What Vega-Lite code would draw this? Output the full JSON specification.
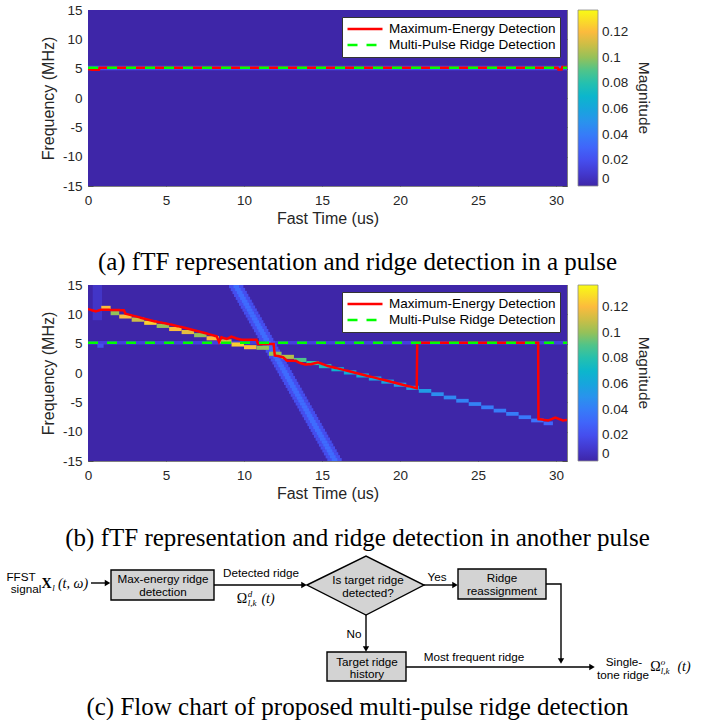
{
  "$schema": "https://vega.github.io/schema/vega-lite/v6.json",
  "padding": {"left": 6, "top": 2, "right": 0, "bottom": 0},
  "spacing": 2,
  "background": "white",
  "resolve": {
    "scale": {"x": "independent", "y": "independent", "fill": "independent", "color": "independent", "strokeDash": "independent", "shape": "independent"},
    "legend": {"fill": "independent", "color": "independent", "strokeDash": "independent", "shape": "independent"}
  },
  "config": {
    "font": "Liberation Sans",
    "view": {"stroke": "#808080", "strokeWidth": 1}
  },
  "datasets": {
    "cellsA": [
      {"t0": 0, "t1": 30.7, "f0": -15, "f1": 15, "mag": 0},
      {"t0": 0, "t1": 30.7, "f0": 4.75, "f1": 5.5, "mag": 0.02}
    ],
    "bgB": [
      {"t0": 0, "t1": 30.7, "f0": -15, "f1": 15, "mag": 0},
      {"t0": 0, "t1": 30.7, "f0": 4.85, "f1": 5.45, "mag": 0.013},
      {"t0": 0.3, "t1": 0.9, "f0": 9, "f1": 15, "mag": 0.008},
      {"t0": 0.6, "t1": 1.0, "f0": 4.3, "f1": 5.0, "mag": 0.02}
    ],
    "diagB": [
      {"t0": 9.04, "t1": 9.96, "f0": 14.45, "f1": 15, "mag": 0.02},
      {"t0": 9.15, "t1": 10.07, "f0": 13.95, "f1": 14.5, "mag": 0.02},
      {"t0": 9.26, "t1": 10.18, "f0": 13.45, "f1": 14, "mag": 0.02},
      {"t0": 9.36, "t1": 10.28, "f0": 12.95, "f1": 13.5, "mag": 0.02},
      {"t0": 9.47, "t1": 10.39, "f0": 12.45, "f1": 13, "mag": 0.02},
      {"t0": 9.58, "t1": 10.5, "f0": 11.95, "f1": 12.5, "mag": 0.02},
      {"t0": 9.68, "t1": 10.6, "f0": 11.45, "f1": 12, "mag": 0.02},
      {"t0": 9.79, "t1": 10.71, "f0": 10.95, "f1": 11.5, "mag": 0.02},
      {"t0": 9.9, "t1": 10.82, "f0": 10.45, "f1": 11, "mag": 0.02},
      {"t0": 10.0, "t1": 10.92, "f0": 9.95, "f1": 10.5, "mag": 0.02},
      {"t0": 10.11, "t1": 11.03, "f0": 9.45, "f1": 10, "mag": 0.02},
      {"t0": 10.22, "t1": 11.14, "f0": 8.95, "f1": 9.5, "mag": 0.02},
      {"t0": 10.32, "t1": 11.24, "f0": 8.45, "f1": 9, "mag": 0.02},
      {"t0": 10.43, "t1": 11.35, "f0": 7.95, "f1": 8.5, "mag": 0.02},
      {"t0": 10.54, "t1": 11.46, "f0": 7.45, "f1": 8, "mag": 0.02},
      {"t0": 10.64, "t1": 11.56, "f0": 6.95, "f1": 7.5, "mag": 0.02},
      {"t0": 10.75, "t1": 11.67, "f0": 6.45, "f1": 7, "mag": 0.02},
      {"t0": 10.86, "t1": 11.78, "f0": 5.95, "f1": 6.5, "mag": 0.02},
      {"t0": 10.96, "t1": 11.88, "f0": 5.45, "f1": 6, "mag": 0.02},
      {"t0": 11.07, "t1": 11.99, "f0": 4.95, "f1": 5.5, "mag": 0.02},
      {"t0": 11.18, "t1": 12.1, "f0": 4.45, "f1": 5, "mag": 0.02},
      {"t0": 11.28, "t1": 12.2, "f0": 3.95, "f1": 4.5, "mag": 0.02},
      {"t0": 11.39, "t1": 12.31, "f0": 3.45, "f1": 4, "mag": 0.02},
      {"t0": 11.5, "t1": 12.42, "f0": 2.95, "f1": 3.5, "mag": 0.02},
      {"t0": 11.6, "t1": 12.52, "f0": 2.45, "f1": 3, "mag": 0.02},
      {"t0": 11.71, "t1": 12.63, "f0": 1.95, "f1": 2.5, "mag": 0.02},
      {"t0": 11.82, "t1": 12.74, "f0": 1.45, "f1": 2, "mag": 0.02},
      {"t0": 11.92, "t1": 12.84, "f0": 0.95, "f1": 1.5, "mag": 0.02},
      {"t0": 12.03, "t1": 12.95, "f0": 0.45, "f1": 1, "mag": 0.02},
      {"t0": 12.14, "t1": 13.06, "f0": -0.05, "f1": 0.5, "mag": 0.02},
      {"t0": 12.24, "t1": 13.16, "f0": -0.55, "f1": 0, "mag": 0.02},
      {"t0": 12.35, "t1": 13.27, "f0": -1.05, "f1": -0.5, "mag": 0.02},
      {"t0": 12.46, "t1": 13.38, "f0": -1.55, "f1": -1, "mag": 0.02},
      {"t0": 12.56, "t1": 13.48, "f0": -2.05, "f1": -1.5, "mag": 0.02},
      {"t0": 12.67, "t1": 13.59, "f0": -2.55, "f1": -2, "mag": 0.02},
      {"t0": 12.78, "t1": 13.7, "f0": -3.05, "f1": -2.5, "mag": 0.02},
      {"t0": 12.88, "t1": 13.8, "f0": -3.55, "f1": -3, "mag": 0.02},
      {"t0": 12.99, "t1": 13.91, "f0": -4.05, "f1": -3.5, "mag": 0.02},
      {"t0": 13.1, "t1": 14.02, "f0": -4.55, "f1": -4, "mag": 0.02},
      {"t0": 13.2, "t1": 14.12, "f0": -5.05, "f1": -4.5, "mag": 0.02},
      {"t0": 13.31, "t1": 14.23, "f0": -5.55, "f1": -5, "mag": 0.02},
      {"t0": 13.42, "t1": 14.34, "f0": -6.05, "f1": -5.5, "mag": 0.02},
      {"t0": 13.52, "t1": 14.44, "f0": -6.55, "f1": -6, "mag": 0.02},
      {"t0": 13.63, "t1": 14.55, "f0": -7.05, "f1": -6.5, "mag": 0.02},
      {"t0": 13.74, "t1": 14.66, "f0": -7.55, "f1": -7, "mag": 0.02},
      {"t0": 13.84, "t1": 14.76, "f0": -8.05, "f1": -7.5, "mag": 0.02},
      {"t0": 13.95, "t1": 14.87, "f0": -8.55, "f1": -8, "mag": 0.02},
      {"t0": 14.06, "t1": 14.98, "f0": -9.05, "f1": -8.5, "mag": 0.02},
      {"t0": 14.16, "t1": 15.08, "f0": -9.55, "f1": -9, "mag": 0.02},
      {"t0": 14.27, "t1": 15.19, "f0": -10.05, "f1": -9.5, "mag": 0.02},
      {"t0": 14.38, "t1": 15.3, "f0": -10.55, "f1": -10, "mag": 0.02},
      {"t0": 14.48, "t1": 15.4, "f0": -11.05, "f1": -10.5, "mag": 0.02},
      {"t0": 14.59, "t1": 15.51, "f0": -11.55, "f1": -11, "mag": 0.02},
      {"t0": 14.7, "t1": 15.62, "f0": -12.05, "f1": -11.5, "mag": 0.02},
      {"t0": 14.8, "t1": 15.72, "f0": -12.55, "f1": -12, "mag": 0.02},
      {"t0": 14.91, "t1": 15.83, "f0": -13.05, "f1": -12.5, "mag": 0.02},
      {"t0": 15.02, "t1": 15.94, "f0": -13.55, "f1": -13, "mag": 0.02},
      {"t0": 15.12, "t1": 16.04, "f0": -14.05, "f1": -13.5, "mag": 0.02},
      {"t0": 15.23, "t1": 16.15, "f0": -14.55, "f1": -14, "mag": 0.02},
      {"t0": 15.34, "t1": 16.26, "f0": -15.05, "f1": -14.5, "mag": 0.02},
      {"t0": 9.32, "t1": 9.68, "f0": 14.45, "f1": 15, "mag": 0.033},
      {"t0": 9.43, "t1": 9.79, "f0": 13.95, "f1": 14.5, "mag": 0.033},
      {"t0": 9.54, "t1": 9.9, "f0": 13.45, "f1": 14, "mag": 0.033},
      {"t0": 9.64, "t1": 10.0, "f0": 12.95, "f1": 13.5, "mag": 0.033},
      {"t0": 9.75, "t1": 10.11, "f0": 12.45, "f1": 13, "mag": 0.033},
      {"t0": 9.86, "t1": 10.22, "f0": 11.95, "f1": 12.5, "mag": 0.033},
      {"t0": 9.96, "t1": 10.32, "f0": 11.45, "f1": 12, "mag": 0.033},
      {"t0": 10.07, "t1": 10.43, "f0": 10.95, "f1": 11.5, "mag": 0.033},
      {"t0": 10.18, "t1": 10.54, "f0": 10.45, "f1": 11, "mag": 0.033},
      {"t0": 10.28, "t1": 10.64, "f0": 9.95, "f1": 10.5, "mag": 0.033},
      {"t0": 10.39, "t1": 10.75, "f0": 9.45, "f1": 10, "mag": 0.033},
      {"t0": 10.5, "t1": 10.86, "f0": 8.95, "f1": 9.5, "mag": 0.033},
      {"t0": 10.6, "t1": 10.96, "f0": 8.45, "f1": 9, "mag": 0.033},
      {"t0": 10.71, "t1": 11.07, "f0": 7.95, "f1": 8.5, "mag": 0.033},
      {"t0": 10.82, "t1": 11.18, "f0": 7.45, "f1": 8, "mag": 0.033},
      {"t0": 10.92, "t1": 11.28, "f0": 6.95, "f1": 7.5, "mag": 0.033},
      {"t0": 11.03, "t1": 11.39, "f0": 6.45, "f1": 7, "mag": 0.033},
      {"t0": 11.14, "t1": 11.5, "f0": 5.95, "f1": 6.5, "mag": 0.033},
      {"t0": 11.24, "t1": 11.6, "f0": 5.45, "f1": 6, "mag": 0.033},
      {"t0": 11.35, "t1": 11.71, "f0": 4.95, "f1": 5.5, "mag": 0.033},
      {"t0": 11.46, "t1": 11.82, "f0": 4.45, "f1": 5, "mag": 0.033},
      {"t0": 11.56, "t1": 11.92, "f0": 3.95, "f1": 4.5, "mag": 0.033},
      {"t0": 11.67, "t1": 12.03, "f0": 3.45, "f1": 4, "mag": 0.033},
      {"t0": 11.78, "t1": 12.14, "f0": 2.95, "f1": 3.5, "mag": 0.033},
      {"t0": 11.88, "t1": 12.24, "f0": 2.45, "f1": 3, "mag": 0.033},
      {"t0": 11.99, "t1": 12.35, "f0": 1.95, "f1": 2.5, "mag": 0.033},
      {"t0": 12.1, "t1": 12.46, "f0": 1.45, "f1": 2, "mag": 0.033},
      {"t0": 12.2, "t1": 12.56, "f0": 0.95, "f1": 1.5, "mag": 0.033},
      {"t0": 12.31, "t1": 12.67, "f0": 0.45, "f1": 1, "mag": 0.033},
      {"t0": 12.42, "t1": 12.78, "f0": -0.05, "f1": 0.5, "mag": 0.033},
      {"t0": 12.52, "t1": 12.88, "f0": -0.55, "f1": 0, "mag": 0.033},
      {"t0": 12.63, "t1": 12.99, "f0": -1.05, "f1": -0.5, "mag": 0.033},
      {"t0": 12.74, "t1": 13.1, "f0": -1.55, "f1": -1, "mag": 0.033},
      {"t0": 12.84, "t1": 13.2, "f0": -2.05, "f1": -1.5, "mag": 0.033},
      {"t0": 12.95, "t1": 13.31, "f0": -2.55, "f1": -2, "mag": 0.033},
      {"t0": 13.06, "t1": 13.42, "f0": -3.05, "f1": -2.5, "mag": 0.033},
      {"t0": 13.16, "t1": 13.52, "f0": -3.55, "f1": -3, "mag": 0.033},
      {"t0": 13.27, "t1": 13.63, "f0": -4.05, "f1": -3.5, "mag": 0.033},
      {"t0": 13.38, "t1": 13.74, "f0": -4.55, "f1": -4, "mag": 0.033},
      {"t0": 13.48, "t1": 13.84, "f0": -5.05, "f1": -4.5, "mag": 0.033},
      {"t0": 13.59, "t1": 13.95, "f0": -5.55, "f1": -5, "mag": 0.033},
      {"t0": 13.7, "t1": 14.06, "f0": -6.05, "f1": -5.5, "mag": 0.033},
      {"t0": 13.8, "t1": 14.16, "f0": -6.55, "f1": -6, "mag": 0.033},
      {"t0": 13.91, "t1": 14.27, "f0": -7.05, "f1": -6.5, "mag": 0.033},
      {"t0": 14.02, "t1": 14.38, "f0": -7.55, "f1": -7, "mag": 0.033},
      {"t0": 14.12, "t1": 14.48, "f0": -8.05, "f1": -7.5, "mag": 0.033},
      {"t0": 14.23, "t1": 14.59, "f0": -8.55, "f1": -8, "mag": 0.033},
      {"t0": 14.34, "t1": 14.7, "f0": -9.05, "f1": -8.5, "mag": 0.033},
      {"t0": 14.44, "t1": 14.8, "f0": -9.55, "f1": -9, "mag": 0.033},
      {"t0": 14.55, "t1": 14.91, "f0": -10.05, "f1": -9.5, "mag": 0.033},
      {"t0": 14.66, "t1": 15.02, "f0": -10.55, "f1": -10, "mag": 0.033},
      {"t0": 14.76, "t1": 15.12, "f0": -11.05, "f1": -10.5, "mag": 0.033},
      {"t0": 14.87, "t1": 15.23, "f0": -11.55, "f1": -11, "mag": 0.033},
      {"t0": 14.98, "t1": 15.34, "f0": -12.05, "f1": -11.5, "mag": 0.033},
      {"t0": 15.08, "t1": 15.44, "f0": -12.55, "f1": -12, "mag": 0.033},
      {"t0": 15.19, "t1": 15.55, "f0": -13.05, "f1": -12.5, "mag": 0.033},
      {"t0": 15.3, "t1": 15.66, "f0": -13.55, "f1": -13, "mag": 0.033},
      {"t0": 15.4, "t1": 15.76, "f0": -14.05, "f1": -13.5, "mag": 0.033},
      {"t0": 15.51, "t1": 15.87, "f0": -14.55, "f1": -14, "mag": 0.033},
      {"t0": 15.62, "t1": 15.98, "f0": -15.05, "f1": -14.5, "mag": 0.033}
    ],
    "ridgeB": [
      {"t0": 0.85, "t1": 1.45, "f0": 10.75, "f1": 11.45, "mag": 0.12},
      {"t0": 1.45, "t1": 2.0, "f0": 9.85, "f1": 10.55, "mag": 0.1},
      {"t0": 2.0, "t1": 2.8, "f0": 9.27, "f1": 9.97, "mag": 0.12},
      {"t0": 2.8, "t1": 3.6, "f0": 8.74, "f1": 9.44, "mag": 0.11},
      {"t0": 3.6, "t1": 4.4, "f0": 8.21, "f1": 8.91, "mag": 0.125},
      {"t0": 4.4, "t1": 5.2, "f0": 7.68, "f1": 8.38, "mag": 0.1},
      {"t0": 5.2, "t1": 6.0, "f0": 7.15, "f1": 7.85, "mag": 0.12},
      {"t0": 6.0, "t1": 6.8, "f0": 6.63, "f1": 7.33, "mag": 0.115},
      {"t0": 6.8, "t1": 7.6, "f0": 6.1, "f1": 6.8, "mag": 0.1},
      {"t0": 7.6, "t1": 8.4, "f0": 5.57, "f1": 6.27, "mag": 0.12},
      {"t0": 8.4, "t1": 9.2, "f0": 5.04, "f1": 5.74, "mag": 0.11},
      {"t0": 9.2, "t1": 10.0, "f0": 4.51, "f1": 5.21, "mag": 0.125},
      {"t0": 10.0, "t1": 10.8, "f0": 4.05, "f1": 4.75, "mag": 0.12},
      {"t0": 10.8, "t1": 11.6, "f0": 3.95, "f1": 4.65, "mag": 0.1},
      {"t0": 11.6, "t1": 12.4, "f0": 2.93, "f1": 3.63, "mag": 0.1},
      {"t0": 12.4, "t1": 13.2, "f0": 2.4, "f1": 3.1, "mag": 0.105},
      {"t0": 13.2, "t1": 14.0, "f0": 1.87, "f1": 2.57, "mag": 0.09},
      {"t0": 14.0, "t1": 14.8, "f0": 1.35, "f1": 2.05, "mag": 0.085},
      {"t0": 14.8, "t1": 15.6, "f0": 0.82, "f1": 1.52, "mag": 0.075},
      {"t0": 15.6, "t1": 16.4, "f0": 0.29, "f1": 0.99, "mag": 0.07},
      {"t0": 16.4, "t1": 17.2, "f0": -0.24, "f1": 0.46, "mag": 0.065},
      {"t0": 17.2, "t1": 18.0, "f0": -0.77, "f1": -0.07, "mag": 0.065},
      {"t0": 18.0, "t1": 18.8, "f0": -1.29, "f1": -0.59, "mag": 0.06},
      {"t0": 18.8, "t1": 19.6, "f0": -1.82, "f1": -1.12, "mag": 0.06},
      {"t0": 19.6, "t1": 20.4, "f0": -2.35, "f1": -1.65, "mag": 0.055},
      {"t0": 20.4, "t1": 21.2, "f0": -2.88, "f1": -2.18, "mag": 0.055},
      {"t0": 21.2, "t1": 22.0, "f0": -3.37, "f1": -2.73, "mag": 0.055},
      {"t0": 22.0, "t1": 22.8, "f0": -3.93, "f1": -3.29, "mag": 0.048},
      {"t0": 22.8, "t1": 23.6, "f0": -4.49, "f1": -3.85, "mag": 0.045},
      {"t0": 23.6, "t1": 24.4, "f0": -5.05, "f1": -4.41, "mag": 0.043},
      {"t0": 24.4, "t1": 25.2, "f0": -5.61, "f1": -4.97, "mag": 0.042},
      {"t0": 25.2, "t1": 26.0, "f0": -6.17, "f1": -5.53, "mag": 0.04},
      {"t0": 26.0, "t1": 26.8, "f0": -6.73, "f1": -6.09, "mag": 0.04},
      {"t0": 26.8, "t1": 27.6, "f0": -7.29, "f1": -6.65, "mag": 0.04},
      {"t0": 27.6, "t1": 28.4, "f0": -7.85, "f1": -7.21, "mag": 0.038},
      {"t0": 28.4, "t1": 29.2, "f0": -8.41, "f1": -7.77, "mag": 0.036},
      {"t0": 29.2, "t1": 29.8, "f0": -8.9, "f1": -8.26, "mag": 0.03}
    ],
    "linesA": [
      {"series": "Maximum-Energy Detection", "i": 0, "t": 0, "f": 4.95},
      {"series": "Maximum-Energy Detection", "i": 1, "t": 0.25, "f": 4.8},
      {"series": "Maximum-Energy Detection", "i": 2, "t": 0.7, "f": 4.8},
      {"series": "Maximum-Energy Detection", "i": 3, "t": 0.75, "f": 5.15},
      {"series": "Maximum-Energy Detection", "i": 4, "t": 30.1, "f": 5.15},
      {"series": "Maximum-Energy Detection", "i": 5, "t": 30.15, "f": 4.85},
      {"series": "Maximum-Energy Detection", "i": 6, "t": 30.35, "f": 4.85},
      {"series": "Maximum-Energy Detection", "i": 7, "t": 30.4, "f": 5.3},
      {"series": "Maximum-Energy Detection", "i": 8, "t": 30.7, "f": 5.3},
      {"series": "Multi-Pulse Ridge Detection", "i": 0, "t": 0, "f": 5.15},
      {"series": "Multi-Pulse Ridge Detection", "i": 1, "t": 30.7, "f": 5.15}
    ],
    "linesB": [
      {"series": "Maximum-Energy Detection", "i": 0, "t": 0, "f": 10.9},
      {"series": "Maximum-Energy Detection", "i": 1, "t": 0.5, "f": 10.5},
      {"series": "Maximum-Energy Detection", "i": 2, "t": 0.85, "f": 10.8},
      {"series": "Maximum-Energy Detection", "i": 3, "t": 2.3, "f": 10.7},
      {"series": "Maximum-Energy Detection", "i": 4, "t": 2.4, "f": 10.1},
      {"series": "Maximum-Energy Detection", "i": 5, "t": 3.0, "f": 9.7},
      {"series": "Maximum-Energy Detection", "i": 6, "t": 4.1, "f": 8.9},
      {"series": "Maximum-Energy Detection", "i": 7, "t": 5.15, "f": 8.35},
      {"series": "Maximum-Energy Detection", "i": 8, "t": 6.2, "f": 7.7},
      {"series": "Maximum-Energy Detection", "i": 9, "t": 7.3, "f": 6.95},
      {"series": "Maximum-Energy Detection", "i": 10, "t": 8.25, "f": 6.25},
      {"series": "Maximum-Energy Detection", "i": 11, "t": 8.4, "f": 5.3},
      {"series": "Maximum-Energy Detection", "i": 12, "t": 8.55, "f": 6.1},
      {"series": "Maximum-Energy Detection", "i": 13, "t": 8.9, "f": 5.8},
      {"series": "Maximum-Energy Detection", "i": 14, "t": 9.2, "f": 6.2},
      {"series": "Maximum-Energy Detection", "i": 15, "t": 9.5, "f": 5.9},
      {"series": "Maximum-Energy Detection", "i": 16, "t": 9.85, "f": 5.65},
      {"series": "Maximum-Energy Detection", "i": 17, "t": 10.8, "f": 5.65},
      {"series": "Maximum-Energy Detection", "i": 18, "t": 10.9, "f": 4.95},
      {"series": "Maximum-Energy Detection", "i": 19, "t": 11.9, "f": 4.95},
      {"series": "Maximum-Energy Detection", "i": 20, "t": 11.97, "f": 3.0},
      {"series": "Maximum-Energy Detection", "i": 21, "t": 12.5, "f": 2.7},
      {"series": "Maximum-Energy Detection", "i": 22, "t": 12.75, "f": 2.1},
      {"series": "Maximum-Energy Detection", "i": 23, "t": 13.3, "f": 2.1},
      {"series": "Maximum-Energy Detection", "i": 24, "t": 13.5, "f": 1.8},
      {"series": "Maximum-Energy Detection", "i": 25, "t": 13.9, "f": 1.45},
      {"series": "Maximum-Energy Detection", "i": 26, "t": 14.3, "f": 1.5},
      {"series": "Maximum-Energy Detection", "i": 27, "t": 14.75, "f": 1.8},
      {"series": "Maximum-Energy Detection", "i": 28, "t": 15.3, "f": 1.25},
      {"series": "Maximum-Energy Detection", "i": 29, "t": 18.3, "f": -0.75},
      {"series": "Maximum-Energy Detection", "i": 30, "t": 21.07, "f": -2.6},
      {"series": "Maximum-Energy Detection", "i": 31, "t": 21.1, "f": 5.15},
      {"series": "Maximum-Energy Detection", "i": 32, "t": 28.85, "f": 5.15},
      {"series": "Maximum-Energy Detection", "i": 33, "t": 28.87, "f": -7.85},
      {"series": "Maximum-Energy Detection", "i": 34, "t": 29.5, "f": -8.1},
      {"series": "Maximum-Energy Detection", "i": 35, "t": 29.95, "f": -7.6},
      {"series": "Maximum-Energy Detection", "i": 36, "t": 30.45, "f": -8.1},
      {"series": "Maximum-Energy Detection", "i": 37, "t": 30.7, "f": -8.0},
      {"series": "Multi-Pulse Ridge Detection", "i": 0, "t": 0, "f": 5.15},
      {"series": "Multi-Pulse Ridge Detection", "i": 1, "t": 30.7, "f": 5.15}
    ],
    "fbox": [
      {"x0": 111, "x1": 214, "y0": 568, "y1": 598},
      {"x0": 458, "x1": 546, "y0": 567, "y1": 597},
      {"x0": 327, "x1": 406, "y0": 650, "y1": 679}
    ],
    "fdiamond": [
      {"x": 307, "ya": 583, "yb": 583},
      {"x": 366, "ya": 554, "yb": 613},
      {"x": 424, "ya": 583, "yb": 583}
    ],
    "fseg": [
      {"seg": "s1", "i": 0, "x": 91, "y": 581}, {"seg": "s1", "i": 1, "x": 108, "y": 581},
      {"seg": "s2", "i": 0, "x": 214, "y": 583}, {"seg": "s2", "i": 1, "x": 305, "y": 583},
      {"seg": "s3", "i": 0, "x": 424, "y": 583}, {"seg": "s3", "i": 1, "x": 456, "y": 583},
      {"seg": "s4", "i": 0, "x": 366, "y": 613}, {"seg": "s4", "i": 1, "x": 366, "y": 648},
      {"seg": "s5", "i": 0, "x": 406, "y": 665}, {"seg": "s5", "i": 1, "x": 593, "y": 665},
      {"seg": "s6", "i": 0, "x": 546, "y": 582}, {"seg": "s6", "i": 1, "x": 561, "y": 582}, {"seg": "s6", "i": 2, "x": 561, "y": 660}
    ],
    "farrow": [
      {"x": 107.5, "y": 581, "dir": "right"},
      {"x": 304, "y": 583, "dir": "right"},
      {"x": 455, "y": 583, "dir": "right"},
      {"x": 366, "y": 647, "dir": "down"},
      {"x": 592, "y": 665, "dir": "right"},
      {"x": 561, "y": 659, "dir": "down"}
    ],
    "ftext": [
      {"x": 21, "y": 575, "label": "FFST"},
      {"x": 26, "y": 587, "label": "signal"},
      {"x": 163, "y": 577, "label": "Max-energy ridge"},
      {"x": 163, "y": 590, "label": "detection"},
      {"x": 261, "y": 571, "label": "Detected ridge"},
      {"x": 368, "y": 578, "label": "Is target ridge"},
      {"x": 368, "y": 591, "label": "detected?"},
      {"x": 437, "y": 575, "label": "Yes"},
      {"x": 502, "y": 576, "label": "Ridge"},
      {"x": 502, "y": 589, "label": "reassignment"},
      {"x": 354, "y": 632, "label": "No"},
      {"x": 367, "y": 660, "label": "Target ridge"},
      {"x": 367, "y": 672, "label": "history"},
      {"x": 474, "y": 655, "label": "Most frequent ridge"},
      {"x": 624, "y": 660, "label": "Single-"},
      {"x": 623, "y": 673, "label": "tone ridge"}
    ],
    "fmath": [
      {"x": 46.5, "y": 582, "label": "X", "role": "bold"},
      {"x": 53.5, "y": 586, "label": "l", "role": "script"},
      {"x": 73, "y": 582, "label": "(t, ω)", "role": "main"},
      {"x": 242, "y": 597, "label": "Ω", "role": "upright"},
      {"x": 250, "y": 591.5, "label": "d", "role": "script"},
      {"x": 252, "y": 601, "label": "l,k", "role": "script"},
      {"x": 268, "y": 597, "label": "(t)", "role": "main"},
      {"x": 655.5, "y": 665, "label": "Ω", "role": "upright"},
      {"x": 663, "y": 660, "label": "o", "role": "script"},
      {"x": 665, "y": 669, "label": "l,k", "role": "script"},
      {"x": 684, "y": 665, "label": "(t)", "role": "main"}
    ]
  },
  "vconcat": [
    {
      "width": 479,
      "height": 176,
      "title": {"text": "(a) fTF representation and ridge detection in a pulse", "orient": "bottom", "anchor": "middle", "frame": "group", "dx": 30, "offset": 23, "font": "Liberation Serif", "fontSize": 25, "fontWeight": "normal", "color": "#000000"},
      "layer": [
        {
          "data": {"name": "cellsA"},
          "mark": {"type": "rect", "clip": true},
          "encoding": {
            "x": {"field": "t0", "type": "quantitative", "scale": {"domain": [0, 30.7], "nice": false, "zero": false},
              "axis": {"orient": "bottom", "values": [0, 5, 10, 15, 20, 25, 30], "title": "Fast Time (us)", "domain": false, "grid": false, "ticks": true, "tickSize": -5, "tickColor": "#404040", "tickWidth": 0.8, "labelPadding": 12, "labelFlush": false, "labelOverlap": false, "labelFont": "Liberation Sans", "labelFontSize": 13.5, "labelColor": "#262626", "labelExpr": "'' + datum.value", "titleFont": "Liberation Sans", "titleFontSize": 16, "titleFontWeight": "normal", "titleColor": "#262626", "titlePadding": 4}},
            "x2": {"field": "t1"},
            "y": {"field": "f0", "type": "quantitative", "scale": {"domain": [-15, 15], "nice": false, "zero": false},
              "axis": {"orient": "left", "values": [-15, -10, -5, 0, 5, 10, 15], "title": "Frequency (MHz)", "domain": false, "grid": false, "ticks": true, "tickSize": -5, "tickColor": "#404040", "tickWidth": 0.8, "labelPadding": 11, "labelFlush": false, "labelOverlap": false, "labelFont": "Liberation Sans", "labelFontSize": 13.5, "labelColor": "#262626", "labelExpr": "'' + datum.value", "titleFont": "Liberation Sans", "titleFontSize": 16, "titleFontWeight": "normal", "titleColor": "#262626", "titlePadding": 6}},
            "y2": {"field": "f1"},
            "fill": {"field": "mag", "type": "quantitative",
              "scale": {"type": "linear", "domain": [0, 0.137], "nice": false, "zero": false, "clamp": true, "interpolate": "rgb", "range": ["#3e26a8", "#4747eb", "#3e6fff", "#2796eb", "#08b4d0", "#31c69f", "#a8c04c", "#fcbb3d", "#f9fb14"]},
              "legend": {"type": "gradient", "title": "Magnitude", "orient": "right", "offset": 10, "direction": "vertical", "gradientLength": 176, "gradientThickness": 20, "gradientStrokeColor": "#8c8c8c", "gradientStrokeWidth": 0.8, "values": [0, 0.02, 0.04, 0.06, 0.08, 0.1, 0.12], "labelExpr": "'' + datum.value", "labelOverlap": false, "labelBaseline": "middle", "labelFont": "Liberation Sans", "labelFontSize": 13.5, "labelOffset": 4, "labelColor": "#262626", "titleOrient": "right", "titleAngle": 270, "titleAnchor": "middle", "titleFont": "Liberation Sans", "titleFontSize": 15.5, "titleFontWeight": "normal", "titleColor": "#262626", "titlePadding": 8}}
          }
        },
        {
          "data": {"name": "linesA"},
          "mark": {"type": "line", "strokeWidth": 2.5, "clip": true},
          "encoding": {
            "x": {"field": "t", "type": "quantitative", "scale": {"domain": [0, 30.7], "nice": false, "zero": false},
              "axis": {"orient": "top", "values": [0, 5, 10, 15, 20, 25, 30], "title": null, "labels": false, "domain": false, "grid": false, "ticks": true, "tickSize": -5, "tickColor": "#404040", "tickWidth": 0.8}},
            "y": {"field": "f", "type": "quantitative", "scale": {"domain": [-15, 15], "nice": false, "zero": false},
              "axis": {"orient": "right", "values": [-15, -10, -5, 0, 5, 10, 15], "title": null, "labels": false, "domain": false, "grid": false, "ticks": true, "tickSize": -5, "tickColor": "#404040", "tickWidth": 0.8}},
            "order": {"field": "i"},
            "color": {"field": "series", "type": "nominal", "scale": {"domain": ["Maximum-Energy Detection", "Multi-Pulse Ridge Detection"], "range": ["#ff0000", "#00ff00"]},
              "legend": {"title": null, "orient": "none", "legendX": 254, "legendY": 7, "direction": "vertical", "fillColor": "#ffffff", "strokeColor": "#333333", "padding": 4, "symbolType": "stroke", "symbolSize": 1225, "symbolStrokeWidth": 2.5, "labelFont": "Liberation Sans", "labelFontSize": 13.5, "labelColor": "#000000", "labelOffset": 5, "labelLimit": 0, "clipHeight": 16, "rowPadding": 0}},
            "strokeDash": {"field": "series", "type": "nominal", "scale": {"domain": ["Maximum-Energy Detection", "Multi-Pulse Ridge Detection"], "range": [[1, 0], [10, 9]]},
              "legend": {"title": null, "orient": "none", "legendX": 254, "legendY": 7, "direction": "vertical", "fillColor": "#ffffff", "strokeColor": "#333333", "padding": 4, "symbolType": "stroke", "symbolSize": 1225, "symbolStrokeWidth": 2.5, "labelFont": "Liberation Sans", "labelFontSize": 13.5, "labelColor": "#000000", "labelOffset": 5, "labelLimit": 0, "clipHeight": 16, "rowPadding": 0}}
          }
        }
      ],
      "resolve": {"axis": {"x": "independent", "y": "independent"}}
    },
    {
      "width": 479,
      "height": 176,
      "title": {"text": "(b) fTF representation and ridge detection in another pulse", "orient": "bottom", "anchor": "middle", "frame": "group", "dx": 30, "offset": 24, "font": "Liberation Serif", "fontSize": 25, "fontWeight": "normal", "color": "#000000"},
      "layer": [
        {
          "data": {"name": "bgB"},
          "mark": {"type": "rect", "clip": true},
          "encoding": {
            "x": {"field": "t0", "type": "quantitative", "scale": {"domain": [0, 30.7], "nice": false, "zero": false},
              "axis": {"orient": "bottom", "values": [0, 5, 10, 15, 20, 25, 30], "title": "Fast Time (us)", "domain": false, "grid": false, "ticks": true, "tickSize": -5, "tickColor": "#404040", "tickWidth": 0.8, "labelPadding": 12, "labelFlush": false, "labelOverlap": false, "labelFont": "Liberation Sans", "labelFontSize": 13.5, "labelColor": "#262626", "labelExpr": "'' + datum.value", "titleFont": "Liberation Sans", "titleFontSize": 16, "titleFontWeight": "normal", "titleColor": "#262626", "titlePadding": 4}},
            "x2": {"field": "t1"},
            "y": {"field": "f0", "type": "quantitative", "scale": {"domain": [-15, 15], "nice": false, "zero": false},
              "axis": {"orient": "left", "values": [-15, -10, -5, 0, 5, 10, 15], "title": "Frequency (MHz)", "domain": false, "grid": false, "ticks": true, "tickSize": -5, "tickColor": "#404040", "tickWidth": 0.8, "labelPadding": 11, "labelFlush": false, "labelOverlap": false, "labelFont": "Liberation Sans", "labelFontSize": 13.5, "labelColor": "#262626", "labelExpr": "'' + datum.value", "titleFont": "Liberation Sans", "titleFontSize": 16, "titleFontWeight": "normal", "titleColor": "#262626", "titlePadding": 6}},
            "y2": {"field": "f1"},
            "fill": {"field": "mag", "type": "quantitative",
              "scale": {"type": "linear", "domain": [0, 0.137], "nice": false, "zero": false, "clamp": true, "interpolate": "rgb", "range": ["#3e26a8", "#4747eb", "#3e6fff", "#2796eb", "#08b4d0", "#31c69f", "#a8c04c", "#fcbb3d", "#f9fb14"]},
              "legend": {"type": "gradient", "title": "Magnitude", "orient": "right", "offset": 10, "direction": "vertical", "gradientLength": 176, "gradientThickness": 20, "gradientStrokeColor": "#8c8c8c", "gradientStrokeWidth": 0.8, "values": [0, 0.02, 0.04, 0.06, 0.08, 0.1, 0.12], "labelExpr": "'' + datum.value", "labelOverlap": false, "labelBaseline": "middle", "labelFont": "Liberation Sans", "labelFontSize": 13.5, "labelOffset": 4, "labelColor": "#262626", "titleOrient": "right", "titleAngle": 270, "titleAnchor": "middle", "titleFont": "Liberation Sans", "titleFontSize": 15.5, "titleFontWeight": "normal", "titleColor": "#262626", "titlePadding": 8}}
          }
        },
        {
          "data": {"name": "diagB"},
          "mark": {"type": "rect", "clip": true},
          "encoding": {
            "x": {"field": "t0", "type": "quantitative", "scale": {"domain": [0, 30.7], "nice": false, "zero": false}, "axis": null},
            "x2": {"field": "t1"},
            "y": {"field": "f0", "type": "quantitative", "scale": {"domain": [-15, 15], "nice": false, "zero": false}, "axis": null},
            "y2": {"field": "f1"},
            "fill": {"field": "mag", "type": "quantitative",
              "scale": {"type": "linear", "domain": [0, 0.137], "nice": false, "zero": false, "clamp": true, "interpolate": "rgb", "range": ["#3e26a8", "#4747eb", "#3e6fff", "#2796eb", "#08b4d0", "#31c69f", "#a8c04c", "#fcbb3d", "#f9fb14"]},
              "legend": {"type": "gradient", "title": "Magnitude", "orient": "right", "offset": 10, "direction": "vertical", "gradientLength": 176, "gradientThickness": 20, "gradientStrokeColor": "#8c8c8c", "gradientStrokeWidth": 0.8, "values": [0, 0.02, 0.04, 0.06, 0.08, 0.1, 0.12], "labelExpr": "'' + datum.value", "labelOverlap": false, "labelBaseline": "middle", "labelFont": "Liberation Sans", "labelFontSize": 13.5, "labelOffset": 4, "labelColor": "#262626", "titleOrient": "right", "titleAngle": 270, "titleAnchor": "middle", "titleFont": "Liberation Sans", "titleFontSize": 15.5, "titleFontWeight": "normal", "titleColor": "#262626", "titlePadding": 8}}
          }
        },
        {
          "data": {"name": "ridgeB"},
          "mark": {"type": "rect", "clip": true},
          "encoding": {
            "x": {"field": "t0", "type": "quantitative", "scale": {"domain": [0, 30.7], "nice": false, "zero": false}, "axis": null},
            "x2": {"field": "t1"},
            "y": {"field": "f0", "type": "quantitative", "scale": {"domain": [-15, 15], "nice": false, "zero": false}, "axis": null},
            "y2": {"field": "f1"},
            "fill": {"field": "mag", "type": "quantitative",
              "scale": {"type": "linear", "domain": [0, 0.137], "nice": false, "zero": false, "clamp": true, "interpolate": "rgb", "range": ["#3e26a8", "#4747eb", "#3e6fff", "#2796eb", "#08b4d0", "#31c69f", "#a8c04c", "#fcbb3d", "#f9fb14"]},
              "legend": {"type": "gradient", "title": "Magnitude", "orient": "right", "offset": 10, "direction": "vertical", "gradientLength": 176, "gradientThickness": 20, "gradientStrokeColor": "#8c8c8c", "gradientStrokeWidth": 0.8, "values": [0, 0.02, 0.04, 0.06, 0.08, 0.1, 0.12], "labelExpr": "'' + datum.value", "labelOverlap": false, "labelBaseline": "middle", "labelFont": "Liberation Sans", "labelFontSize": 13.5, "labelOffset": 4, "labelColor": "#262626", "titleOrient": "right", "titleAngle": 270, "titleAnchor": "middle", "titleFont": "Liberation Sans", "titleFontSize": 15.5, "titleFontWeight": "normal", "titleColor": "#262626", "titlePadding": 8}}
          }
        },
        {
          "data": {"name": "linesB"},
          "mark": {"type": "line", "strokeWidth": 2.5, "clip": true},
          "encoding": {
            "x": {"field": "t", "type": "quantitative", "scale": {"domain": [0, 30.7], "nice": false, "zero": false},
              "axis": {"orient": "top", "values": [0, 5, 10, 15, 20, 25, 30], "title": null, "labels": false, "domain": false, "grid": false, "ticks": true, "tickSize": -5, "tickColor": "#404040", "tickWidth": 0.8}},
            "y": {"field": "f", "type": "quantitative", "scale": {"domain": [-15, 15], "nice": false, "zero": false},
              "axis": {"orient": "right", "values": [-15, -10, -5, 0, 5, 10, 15], "title": null, "labels": false, "domain": false, "grid": false, "ticks": true, "tickSize": -5, "tickColor": "#404040", "tickWidth": 0.8}},
            "order": {"field": "i"},
            "color": {"field": "series", "type": "nominal", "scale": {"domain": ["Maximum-Energy Detection", "Multi-Pulse Ridge Detection"], "range": ["#ff0000", "#00ff00"]},
              "legend": {"title": null, "orient": "none", "legendX": 254, "legendY": 7, "direction": "vertical", "fillColor": "#ffffff", "strokeColor": "#333333", "padding": 4, "symbolType": "stroke", "symbolSize": 1225, "symbolStrokeWidth": 2.5, "labelFont": "Liberation Sans", "labelFontSize": 13.5, "labelColor": "#000000", "labelOffset": 5, "labelLimit": 0, "clipHeight": 16, "rowPadding": 0}},
            "strokeDash": {"field": "series", "type": "nominal", "scale": {"domain": ["Maximum-Energy Detection", "Multi-Pulse Ridge Detection"], "range": [[1, 0], [10, 9]]},
              "legend": {"title": null, "orient": "none", "legendX": 254, "legendY": 7, "direction": "vertical", "fillColor": "#ffffff", "strokeColor": "#333333", "padding": 4, "symbolType": "stroke", "symbolSize": 1225, "symbolStrokeWidth": 2.5, "labelFont": "Liberation Sans", "labelFontSize": 13.5, "labelColor": "#000000", "labelOffset": 5, "labelLimit": 0, "clipHeight": 16, "rowPadding": 0}}
          }
        }
      ],
      "resolve": {"axis": {"x": "independent", "y": "independent"}}
    },
    {
      "width": 479,
      "height": 128,
      "view": {"stroke": null},
      "title": {"text": "(c) Flow chart of proposed multi-pulse ridge detection", "orient": "bottom", "anchor": "middle", "frame": "group", "dx": 30, "offset": 11, "font": "Liberation Serif", "fontSize": 25, "fontWeight": "normal", "color": "#000000"},
      "layer": [
        {
          "data": {"name": "fbox"},
          "mark": {"type": "rect", "fill": "#d3d3d3", "stroke": "#000000", "strokeWidth": 1.4},
          "encoding": {
            "x": {"field": "x0", "type": "quantitative", "scale": {"domain": [88, 567], "nice": false, "zero": false}, "axis": null},
            "x2": {"field": "x1"},
            "y": {"field": "y0", "type": "quantitative", "scale": {"domain": [554, 682], "nice": false, "zero": false, "reverse": true}, "axis": null},
            "y2": {"field": "y1"}
          }
        },
        {
          "data": {"name": "fdiamond"},
          "mark": {"type": "area", "fill": "#d3d3d3", "stroke": "#000000", "strokeWidth": 1.4, "orient": "vertical"},
          "encoding": {
            "x": {"field": "x", "type": "quantitative", "scale": {"domain": [88, 567], "nice": false, "zero": false}, "axis": null},
            "y": {"field": "ya", "type": "quantitative", "scale": {"domain": [554, 682], "nice": false, "zero": false, "reverse": true}, "axis": null},
            "y2": {"field": "yb"}
          }
        },
        {
          "data": {"name": "fseg"},
          "mark": {"type": "line", "stroke": "#000000", "strokeWidth": 1.4},
          "encoding": {
            "x": {"field": "x", "type": "quantitative", "scale": {"domain": [88, 567], "nice": false, "zero": false}, "axis": null},
            "y": {"field": "y", "type": "quantitative", "scale": {"domain": [554, 682], "nice": false, "zero": false, "reverse": true}, "axis": null},
            "detail": {"field": "seg"},
            "order": {"field": "i"}
          }
        },
        {
          "data": {"name": "farrow"},
          "mark": {"type": "point", "filled": true, "size": 40, "color": "#000000", "opacity": 1},
          "encoding": {
            "x": {"field": "x", "type": "quantitative", "scale": {"domain": [88, 567], "nice": false, "zero": false}, "axis": null},
            "y": {"field": "y", "type": "quantitative", "scale": {"domain": [554, 682], "nice": false, "zero": false, "reverse": true}, "axis": null},
            "shape": {"field": "dir", "type": "nominal", "scale": {"domain": ["right", "down"], "range": ["triangle-right", "triangle-down"]}, "legend": null}
          }
        },
        {
          "data": {"name": "ftext"},
          "mark": {"type": "text", "font": "Liberation Sans", "fontSize": 11.7, "align": "center", "baseline": "middle", "color": "#000000"},
          "encoding": {
            "x": {"field": "x", "type": "quantitative", "scale": {"domain": [88, 567], "nice": false, "zero": false}, "axis": null},
            "y": {"field": "y", "type": "quantitative", "scale": {"domain": [554, 682], "nice": false, "zero": false, "reverse": true}, "axis": null},
            "text": {"field": "label"}
          }
        },
        {
          "data": {"name": "fmath"},
          "transform": [{"filter": "datum.role === 'bold'"}],
          "mark": {"type": "text", "font": "Liberation Serif", "fontSize": 14, "fontWeight": "bold", "align": "center", "baseline": "middle", "color": "#000000"},
          "encoding": {
            "x": {"field": "x", "type": "quantitative", "scale": {"domain": [88, 567], "nice": false, "zero": false}, "axis": null},
            "y": {"field": "y", "type": "quantitative", "scale": {"domain": [554, 682], "nice": false, "zero": false, "reverse": true}, "axis": null},
            "text": {"field": "label"}
          }
        },
        {
          "data": {"name": "fmath"},
          "transform": [{"filter": "datum.role === 'upright'"}],
          "mark": {"type": "text", "font": "Liberation Serif", "fontSize": 14, "align": "center", "baseline": "middle", "color": "#000000"},
          "encoding": {
            "x": {"field": "x", "type": "quantitative", "scale": {"domain": [88, 567], "nice": false, "zero": false}, "axis": null},
            "y": {"field": "y", "type": "quantitative", "scale": {"domain": [554, 682], "nice": false, "zero": false, "reverse": true}, "axis": null},
            "text": {"field": "label"}
          }
        },
        {
          "data": {"name": "fmath"},
          "transform": [{"filter": "datum.role === 'main'"}],
          "mark": {"type": "text", "font": "Liberation Serif", "fontSize": 14, "fontStyle": "italic", "align": "center", "baseline": "middle", "color": "#000000"},
          "encoding": {
            "x": {"field": "x", "type": "quantitative", "scale": {"domain": [88, 567], "nice": false, "zero": false}, "axis": null},
            "y": {"field": "y", "type": "quantitative", "scale": {"domain": [554, 682], "nice": false, "zero": false, "reverse": true}, "axis": null},
            "text": {"field": "label"}
          }
        },
        {
          "data": {"name": "fmath"},
          "transform": [{"filter": "datum.role === 'script'"}],
          "mark": {"type": "text", "font": "Liberation Serif", "fontSize": 9, "fontStyle": "italic", "align": "center", "baseline": "middle", "color": "#000000"},
          "encoding": {
            "x": {"field": "x", "type": "quantitative", "scale": {"domain": [88, 567], "nice": false, "zero": false}, "axis": null},
            "y": {"field": "y", "type": "quantitative", "scale": {"domain": [554, 682], "nice": false, "zero": false, "reverse": true}, "axis": null},
            "text": {"field": "label"}
          }
        }
      ]
    }
  ]
}
